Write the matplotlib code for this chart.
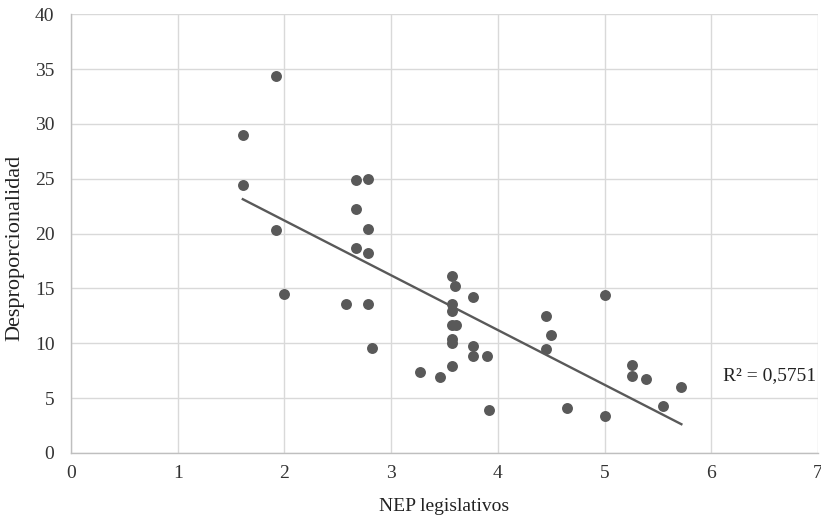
import matplotlib
matplotlib.use("Agg")
import matplotlib.pyplot as plt
import numpy as np

plt.rcParams['font.family'] = ['Liberation Serif', 'DejaVu Serif']

nep = [1.92, 1.61, 1.61, 1.92, 2.00, 2.67, 2.78, 2.67, 2.78, 2.67, 2.78, 2.58, 2.78, 2.82,
       3.27, 3.46, 3.57, 3.60, 3.77, 3.57, 3.57, 3.57, 3.61, 3.57, 3.57, 3.77, 3.77, 3.90,
       3.57, 3.92, 4.45, 4.50, 4.45, 4.65, 5.00, 5.00, 5.26, 5.26, 5.39, 5.72, 5.55]
desp = [34.4, 29.0, 24.4, 20.3, 14.5, 24.9, 25.0, 22.2, 20.4, 18.7, 18.25, 13.55, 13.55, 9.6,
        7.35, 6.9, 16.15, 15.2, 14.2, 13.6, 12.97, 11.66, 11.66, 10.4, 10.05, 9.75, 8.87, 8.87,
        7.93, 3.95, 12.5, 10.8, 9.45, 4.1, 14.4, 3.4, 8.0, 7.0, 6.7, 6.0, 4.3]
r2_label = "R² = 0,5751"
x_ticks = [0, 1, 2, 3, 4, 5, 6, 7]
y_ticks = [0, 5, 10, 15, 20, 25, 30, 35, 40]

fig = plt.figure(figsize=(8.21, 5.24), dpi=100)
ax = fig.add_axes([0.0865, 0.1355, 0.9098, 0.8375])

grey = '#595959'
ax.scatter(nep, desp, s=62, color=grey, zorder=3, linewidths=0)

xa = np.array(nep)
ya = np.array(desp)
m, b = np.polyfit(xa, ya, 1)
xs = np.array([xa.min(), xa.max()])
ax.plot(xs, m * xs + b, color=grey, lw=1.7, zorder=2)

ax.text(6.11, 7.1, r2_label, fontsize=14, va='center', ha='left', color='#222222')

ax.set_xlim(0, 7)
ax.set_ylim(0, 40)
ax.set_xticks(x_ticks)
ax.set_yticks(y_ticks)
ax.grid(True, color='#d9d9d9', lw=1)
ax.set_axisbelow(True)
for s in ['top', 'right']:
    ax.spines[s].set_visible(False)
for s in ['left', 'bottom']:
    ax.spines[s].set_color('#bfbfbf')
    ax.spines[s].set_linewidth(1)
ax.tick_params(length=0, labelsize=14, colors='#333333')
ax.tick_params(axis='x', pad=9)
ax.tick_params(axis='y', pad=12)
ax.set_xlabel('NEP legislativos', fontsize=14, color='#222222')
ax.set_ylabel('Desproporcionalidad', fontsize=16, color='#222222')
ax.xaxis.set_label_coords(0.5, -0.103)
ax.yaxis.set_label_coords(-0.063, 0.467)

fig.savefig('out.png', dpi=100)
